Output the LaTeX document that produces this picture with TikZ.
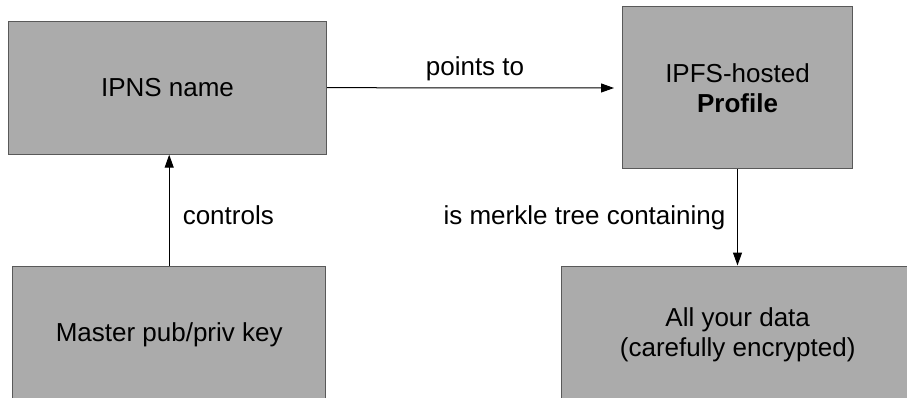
\documentclass[tikz,border=0pt]{standalone}
\usepackage{fontspec}
\setmainfont{Liberation Sans}
\usetikzlibrary{arrows.meta}
\begin{document}
\begin{tikzpicture}[x=1pt,y=-1pt,
  box/.style={draw=black!65,line width=1pt,fill=black!33,inner sep=0pt,align=center,
    font=\fontsize{26}{30}\selectfont},
  lbl/.style={anchor=base,inner sep=0pt,font=\fontsize{26}{30}\selectfont},
  conn/.style={line width=1pt,-{Triangle[length=13pt,width=9pt]}}]
\clip (0,0) rectangle (907,398);
\fill[white] (0,0) rectangle (907,398);
\node[box,minimum width=318pt,minimum height=133pt] (ipns) at (167.5,87.7) {IPNS name};
\node[box,minimum width=230pt,minimum height=162pt] (prof) at (737.5,88) {IPFS-hosted\\\textbf{Profile}};
\node[box,minimum width=313pt,minimum height=160pt,text depth=0pt] (master) at (169.2,346) {};
\node[font=\fontsize{26}{30}\selectfont,inner sep=0pt] (mastert) at (169.2,335) {Master pub/priv key};
\node[box,minimum width=352pt,minimum height=160pt] (data) at (737.7,346) {};
\node[font=\fontsize{26}{30}\selectfont,inner sep=0pt,align=center] (datat) at (737.7,335) {All your data\\(carefully encrypted)};
\draw[conn] (ipns.east) -- ([xshift=-8pt]prof.west);
\draw[conn] (master.north) -- (master.north |- ipns.south);
\draw[conn] (prof.south) -- (prof.south |- data.north);
\node[lbl] (l1) at (475,76) {points to};
\node[lbl] (l2) at (228.3,224) {controls};
\node[lbl] (l3) at (584.5,225) {is merkle tree containing};
\end{tikzpicture}
\end{document}
